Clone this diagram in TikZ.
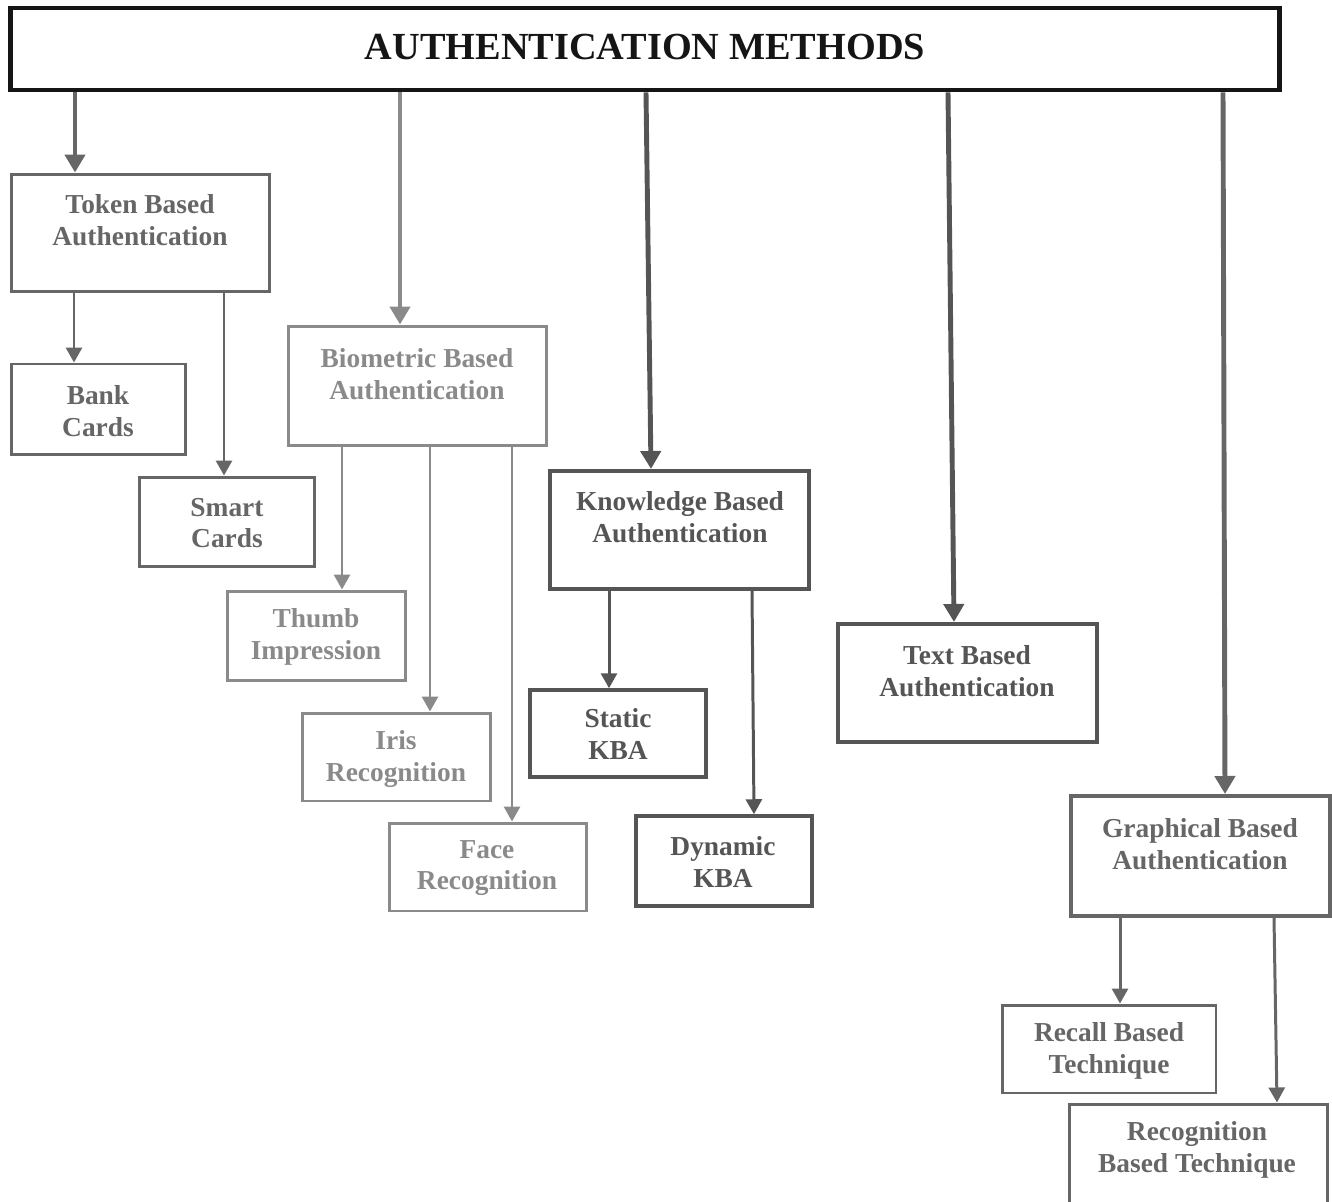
\documentclass[tikz,border=0pt]{standalone}
\usepackage{fontspec}
\setmainfont{Liberation Serif}
\usetikzlibrary{arrows.meta}
\definecolor{ink}{HTML}{151515}
\definecolor{tokgray}{HTML}{666666}
\definecolor{biogray}{HTML}{8A8A8A}
\definecolor{kngray}{HTML}{555555}
\definecolor{txgray}{HTML}{555555}
\definecolor{grgray}{HTML}{666666}
\begin{document}
\begin{tikzpicture}[x=0.02cm,y=-0.02cm,
  box/.style={draw, rectangle, inner sep=0pt, line width=1.7pt},
  heavybox/.style={box, line width=2.3pt},
  lbl/.style={align=center, inner sep=0pt, font=\fontsize{15.6pt}{18.1pt}\selectfont\bfseries},
  trunk/.style={line width=2.8pt, -{Triangle[length=0.36cm,width=0.4cm]}},
  twig/.style={line width=1.7pt, -{Triangle[length=0.3cm,width=0.32cm]}},
]
\useasboundingbox (0,0) rectangle (1332,1202);
\clip (0,0) rectangle (1332,1202);

% root
\node[box, draw=ink, line width=2.8pt, minimum width=25.4cm, minimum height=1.64cm] (title) at (645,49) {};
\node[inner sep=0pt, text=ink, font=\fontsize{21.8pt}{24pt}\selectfont\bfseries] (title-t) at (645,47) {AUTHENTICATION METHODS};

% token branch
\node[box, draw=tokgray, minimum width=5.18cm, minimum height=2.36cm] (token) at (140.5,233) {};
\node[lbl, text=tokgray] (token-t) at (140,220) {Token Based\\Authentication};
\node[box, draw=tokgray, minimum width=3.5cm, minimum height=1.82cm] (bank) at (98.5,409.5) {};
\node[lbl, text=tokgray] (bank-t) at (98,411) {Bank\\Cards};
\node[box, draw=tokgray, minimum width=3.52cm, minimum height=1.8cm] (smart) at (227,522) {};
\node[lbl, text=tokgray] (smart-t) at (227,523) {Smart\\Cards};

% biometric branch
\node[box, draw=biogray, minimum width=5.18cm, minimum height=2.4cm] (bio) at (417.5,386) {};
\node[lbl, text=biogray] (bio-t) at (417,374) {Biometric Based\\Authentication};
\node[box, draw=biogray, minimum width=3.58cm, minimum height=1.8cm] (thumb) at (316.5,636) {};
\node[lbl, text=biogray] (thumb-t) at (316,637) {Thumb\\Impression};
\node[box, draw=biogray, minimum width=3.78cm, minimum height=1.76cm] (iris) at (396.5,757) {};
\node[lbl, text=biogray] (iris-t) at (396,759) {Iris\\Recognition};
\node[box, draw=biogray, minimum width=3.96cm, minimum height=1.76cm] (face) at (488,867) {};
\node[lbl, text=biogray] (face-t) at (487,868) {Face\\Recognition};

% knowledge branch
\node[heavybox, draw=kngray, minimum width=5.18cm, minimum height=2.36cm] (know) at (679.5,530) {};
\node[lbl, text=kngray] (know-t) at (680,517) {Knowledge Based\\Authentication};
\node[box, draw=kngray, line width=2pt, minimum width=3.52cm, minimum height=1.74cm] (static) at (618,733.5) {};
\node[lbl, text=kngray] (static-t) at (618,734) {Static\\KBA};
\node[box, draw=kngray, line width=2pt, minimum width=3.52cm, minimum height=1.8cm] (dynamic) at (724,861) {};
\node[lbl, text=kngray] (dynamic-t) at (723,862) {Dynamic\\KBA};

% text branch
\node[heavybox, draw=txgray, minimum width=5.18cm, minimum height=2.36cm] (textb) at (967.5,683) {};
\node[lbl, text=txgray] (textb-t) at (967,671) {Text Based\\Authentication};

% graphical branch
\node[heavybox, draw=grgray, minimum width=5.18cm, minimum height=2.4cm] (graph) at (1200.5,856) {};
\node[lbl, text=grgray] (graph-t) at (1200,844) {Graphical Based\\Authentication};
\node[box, draw=grgray, minimum width=4.28cm, minimum height=1.76cm] (recall) at (1109,1049) {};
\node[lbl, text=grgray] (recall-t) at (1109,1051) {Recall Based\\Technique};
\node[box, draw=grgray, minimum width=5.18cm, minimum height=2.36cm] (recog) at (1198.5,1163) {};
\node[lbl, text=grgray] (recog-t) at (1197,1150) {Recognition\\Based Technique};

% trunk connectors from the root
\draw[trunk, tokgray] (title.south -| 75,0) -- (token.north -| 75,0);
\draw[trunk, biogray] (title.south -| 400,0) -- (bio.north -| 400,0);
\draw[trunk, kngray] (title.south -| 646,0) -- (know.north -| 651,0);
\draw[trunk, txgray] (title.south -| 948,0) -- (textb.north -| 954,0);
\draw[trunk, grgray] (title.south -| 1223,0) -- (graph.north -| 1225,0);

% branch connectors
\draw[twig, tokgray] (token.south -| 74,0) -- (bank.north -| 74,0);
\draw[twig, tokgray] (token.south -| 224,0) -- (smart.north -| 224,0);
\draw[twig, biogray] (bio.south -| 342,0) -- (thumb.north -| 342,0);
\draw[twig, biogray] (bio.south -| 430,0) -- (iris.north -| 430,0);
\draw[twig, biogray] (bio.south -| 512,0) -- (face.north -| 512,0);
\draw[twig, kngray] (know.south -| 609,0) -- (static.north -| 609,0);
\draw[twig, kngray] (know.south -| 752,0) -- (dynamic.north -| 754,0);
\draw[twig, grgray] (graph.south -| 1120,0) -- (recall.north -| 1120,0);
\draw[twig, grgray] (graph.south -| 1274,0) -- (recog.north -| 1277,0);
\end{tikzpicture}
\end{document}
